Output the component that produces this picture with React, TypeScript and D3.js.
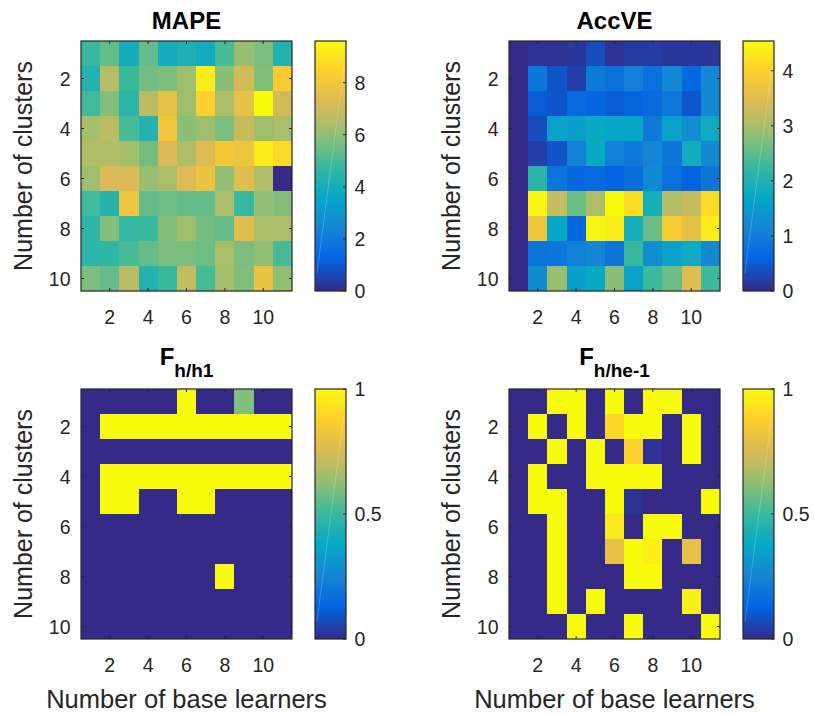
import * as d3 from "d3";
import React, { useEffect, useRef } from "react";

// categories
const learners = [1, 2, 3, 4, 5, 6, 7, 8, 9, 10, 11];
const clusters = [1, 2, 3, 4, 5, 6, 7, 8, 9, 10];
const xTickValues = [2, 4, 6, 8, 10];
const yTickValues = [2, 4, 6, 8, 10];

// rows = clusters (1..10), columns = base learners (1..11)
const mape = [
  [4.8, 5.4, 3.9, 5.4, 3.9, 4.2, 3.9, 5.0, 6.1, 5.7, 4.3],
  [4.3, 6.6, 4.8, 5.6, 5.7, 6.2, 9.2, 5.9, 7.1, 5.8, 8.3],
  [4.9, 5.8, 4.5, 6.7, 7.7, 6.2, 8.4, 6.4, 7.6, 9.6, 7.1],
  [6.3, 6.7, 5.0, 4.3, 8.0, 5.9, 6.2, 5.7, 6.9, 6.2, 6.4],
  [6.5, 6.5, 6.3, 5.6, 7.2, 6.5, 7.3, 8.1, 7.9, 9.2, 8.7],
  [6.2, 7.2, 7.2, 6.1, 6.4, 7.3, 7.8, 6.0, 7.4, 6.5, 0.0],
  [4.9, 4.4, 7.9, 5.4, 5.5, 5.4, 5.4, 6.4, 4.7, 6.0, 5.8],
  [4.5, 5.8, 4.7, 4.8, 5.8, 6.2, 5.6, 5.4, 7.4, 6.4, 6.4],
  [4.5, 4.6, 5.0, 5.4, 5.7, 5.7, 5.5, 6.4, 5.7, 6.0, 5.0],
  [5.7, 5.4, 6.6, 4.3, 4.8, 6.8, 5.0, 6.3, 5.8, 7.8, 6.0],
];

const accve = [
  [0, 0.08, 0.08, 0.12, 0.34, 0.08, 0.17, 0.17, 0.12, 0.12, 0.12],
  [0, 0.9, 0.42, 0.2, 0.95, 0.8, 1.05, 0.8, 1.2, 0.65, 1.15],
  [0, 0.5, 0.42, 0.68, 0.6, 0.5, 0.62, 0.7, 0.92, 0.45, 1.2],
  [0, 0.35, 1.6, 1.55, 1.75, 1.7, 1.7, 0.95, 1.6, 1.3, 1.8],
  [0, 0.22, 0.42, 1.07, 1.75, 1.05, 0.93, 1.12, 0.88, 1.85, 1.2],
  [0, 2.1, 0.85, 0.65, 0.68, 0.57, 0.75, 1.22, 0.78, 0.57, 0.9],
  [0, 4.45, 3.25, 2.6, 3.05, 4.54, 4.15, 1.9, 3.1, 3.25, 4.15],
  [0, 3.75, 1.7, 0.65, 4.45, 4.35, 1.9, 2.6, 3.9, 3.6, 4.35],
  [0, 0.85, 0.88, 1.05, 1.12, 0.87, 2.25, 1.3, 1.6, 1.8, 1.2],
  [0, 1.22, 2.9, 1.55, 1.75, 2.8, 1.6, 2.3, 2.6, 3.5, 2.3],
];

const fhh1 = [
  [0, 0, 0, 0, 0, 1, 0, 0, 0.6, 0, 0],
  [0, 1, 1, 1, 1, 1, 1, 1, 1, 1, 1],
  [0, 0, 0, 0, 0, 0, 0, 0, 0, 0, 0],
  [0, 1, 1, 1, 1, 1, 1, 1, 1, 1, 1],
  [0, 1, 1, 0, 0, 1, 1, 0, 0, 0, 0],
  [0, 0, 0, 0, 0, 0, 0, 0, 0, 0, 0],
  [0, 0, 0, 0, 0, 0, 0, 0, 0, 0, 0],
  [0, 0, 0, 0, 0, 0, 0, 1, 0, 0, 0],
  [0, 0, 0, 0, 0, 0, 0, 0, 0, 0, 0],
  [0, 0, 0, 0, 0, 0, 0, 0, 0, 0, 0],
];

const fhhe1 = [
  [0, 0, 1, 1, 0, 1, 0, 1, 1, 0, 0],
  [0, 1, 0, 1, 0, 0.9, 1, 1, 0, 1, 0],
  [0, 0, 1, 0, 1, 0, 0.88, 0.02, 0, 1, 0],
  [0, 1, 0, 0, 1, 1, 1, 1, 0, 0, 0],
  [0, 1, 1, 0, 0, 1, 0.02, 0, 0, 0, 1],
  [0, 0, 1, 0, 0, 0.95, 0, 1, 1, 0, 0],
  [0, 0, 1, 0, 0, 0.8, 1, 0.97, 0, 0.8, 0],
  [0, 0, 1, 0, 0, 0, 1, 1, 0, 0, 0],
  [0, 0, 1, 0, 1, 0, 0, 0, 0, 0.97, 0],
  [0, 0, 0, 1, 0, 0, 1, 0, 0, 0, 1],
];

const mapeTicks = [0, 2, 4, 6, 8];
const accveTicks = [0, 1, 2, 3, 4];
const ratioTicks = [0, 0.5, 1];

const PARULA = ["#352a87", "#0363e1", "#1485d4", "#06a7c6", "#38b99e", "#92bf73", "#d9ba56", "#fcce2e", "#f9fb0e"];
const parula = d3.piecewise(d3.interpolateRgb, PARULA);

const FONT = "'Liberation Sans', Arial, Helvetica, sans-serif";
const INK = "#262626";

type Panel = {
  id: string;
  title: string;
  sub: string;
  data: number[][];
  cbTicks: number[];
  left: number;
  top: number;
  xLabel: boolean;
};

const panels: Panel[] = [
  { id: "p1", title: "MAPE", sub: "", data: mape, cbTicks: mapeTicks, left: 81, top: 41, xLabel: false },
  { id: "p2", title: "AccVE", sub: "", data: accve, cbTicks: accveTicks, left: 509, top: 41, xLabel: false },
  { id: "p3", title: "F", sub: "h/h1", data: fhh1, cbTicks: ratioTicks, left: 81, top: 389, xLabel: true },
  { id: "p4", title: "F", sub: "h/he-1", data: fhhe1, cbTicks: ratioTicks, left: 509, top: 389, xLabel: true },
];

function drawPanel(svg: d3.Selection<SVGSVGElement, unknown, null, undefined>, p: Panel) {
  const width = 211;
  const height = 250;
  const tick = 3;
  const right = p.left + width;
  const bottom = p.top + height;

  const x = d3.scaleLinear().domain([0.5, 11.5]).range([p.left, right]);
  const y = d3.scaleLinear().domain([0.5, 10.5]).range([p.top, bottom]);
  const ext = d3.extent(p.data.flat()) as [number, number];
  const color = d3.scaleSequential(parula).domain(ext);

  const cells = p.data.flatMap((row, i) => row.map((v, j) => ({ r: clusters[i], c: learners[j], v })));

  const g = svg.append("g").attr("font-family", FONT);

  g.selectAll("rect.cell")
    .data(cells)
    .join("rect")
    .attr("class", "cell")
    .attr("x", (d) => x(d.c - 0.5))
    .attr("y", (d) => y(d.r - 0.5))
    .attr("width", (d) => x(d.c + 0.5) - x(d.c - 0.5))
    .attr("height", (d) => y(d.r + 0.5) - y(d.r - 0.5))
    .attr("fill", (d) => color(d.v))
    .attr("shape-rendering", "crispEdges");

  // box
  g.append("rect")
    .attr("x", p.left)
    .attr("y", p.top)
    .attr("width", width)
    .attr("height", height)
    .attr("fill", "none")
    .attr("stroke", INK)
    .attr("stroke-width", 1.2);

  // ticks, inside on all four sides
  xTickValues.forEach((t) => {
    g.append("line").attr("x1", x(t)).attr("x2", x(t)).attr("y1", bottom).attr("y2", bottom - tick).attr("stroke", INK);
    g.append("line").attr("x1", x(t)).attr("x2", x(t)).attr("y1", p.top).attr("y2", p.top + tick).attr("stroke", INK);
    g.append("text")
      .attr("x", x(t))
      .attr("y", bottom + 33)
      .attr("text-anchor", "middle")
      .attr("font-size", 19.5)
      .attr("fill", INK)
      .text(t);
  });
  yTickValues.forEach((t) => {
    g.append("line").attr("x1", p.left).attr("x2", p.left + tick).attr("y1", y(t)).attr("y2", y(t)).attr("stroke", INK);
    g.append("line").attr("x1", right).attr("x2", right - tick).attr("y1", y(t)).attr("y2", y(t)).attr("stroke", INK);
    g.append("text")
      .attr("x", p.left - 10.5)
      .attr("y", y(t))
      .attr("dy", "0.36em")
      .attr("text-anchor", "end")
      .attr("font-size", 19.5)
      .attr("fill", INK)
      .text(t);
  });

  // title
  const title = g
    .append("text")
    .attr("x", (p.left + right) / 2)
    .attr("y", p.sub ? p.top - 24 : p.top - 12.5)
    .attr("text-anchor", "middle")
    .attr("font-weight", "bold")
    .attr("font-size", 24)
    .attr("fill", "#000");
  title.append("tspan").text(p.title);
  if (p.sub) {
    title.append("tspan").attr("dy", 11.7).attr("font-size", 19).text(p.sub);
  }

  // axis labels
  g.append("text")
    .attr("transform", `translate(${p.left - 49.5},${(p.top + bottom) / 2}) rotate(-90)`)
    .attr("text-anchor", "middle")
    .attr("font-size", 25)
    .attr("fill", INK)
    .text("Number of clusters");
  if (p.xLabel) {
    g.append("text")
      .attr("x", (p.left + right) / 2)
      .attr("y", bottom + 69)
      .attr("text-anchor", "middle")
      .attr("font-size", 25.5)
      .attr("fill", INK)
      .text("Number of base learners");
  }

  // colorbar
  const cbLeft = right + 23;
  const cbWidth = 31;
  const cb = d3.scaleLinear().domain(ext).range([bottom, p.top]);
  const grad = svg
    .append("defs")
    .append("linearGradient")
    .attr("id", `grad-${p.id}`)
    .attr("x1", 0)
    .attr("y1", 1)
    .attr("x2", 0)
    .attr("y2", 0);
  d3.range(0, 41).forEach((i) => {
    grad.append("stop").attr("offset", i / 40).attr("stop-color", parula(i / 40));
  });
  g.append("rect")
    .attr("x", cbLeft)
    .attr("y", p.top)
    .attr("width", cbWidth)
    .attr("height", height)
    .attr("fill", `url(#grad-${p.id})`);
  g.append("line")
    .attr("x1", cbLeft + 2)
    .attr("y1", bottom - 18)
    .attr("x2", cbLeft + cbWidth - 2)
    .attr("y2", p.top + 25)
    .attr("stroke", "#fff")
    .attr("stroke-opacity", 0.3)
    .attr("stroke-width", 0.7);
  g.append("rect")
    .attr("x", cbLeft)
    .attr("y", p.top)
    .attr("width", cbWidth)
    .attr("height", height)
    .attr("fill", "none")
    .attr("stroke", INK)
    .attr("stroke-width", 1.2);
  p.cbTicks.forEach((t) => {
    g.append("line")
      .attr("x1", cbLeft + cbWidth)
      .attr("x2", cbLeft + cbWidth - tick)
      .attr("y1", cb(t))
      .attr("y2", cb(t))
      .attr("stroke", INK);
    g.append("text")
      .attr("x", cbLeft + cbWidth + 8.5)
      .attr("y", cb(t))
      .attr("dy", "0.36em")
      .attr("font-size", 19.5)
      .attr("fill", INK)
      .text(t);
  });
}

export default function App() {
  const ref = useRef<SVGSVGElement>(null);

  useEffect(() => {
    const svg = d3.select(ref.current as SVGSVGElement);
    svg.selectAll("*").remove();
    panels.forEach((p) => drawPanel(svg, p));
  }, []);

  return (
    <svg
      ref={ref}
      width={814}
      height={715}
      style={{ position: "absolute", left: 0, top: 0, background: "#fff" }}
    />
  );
}
